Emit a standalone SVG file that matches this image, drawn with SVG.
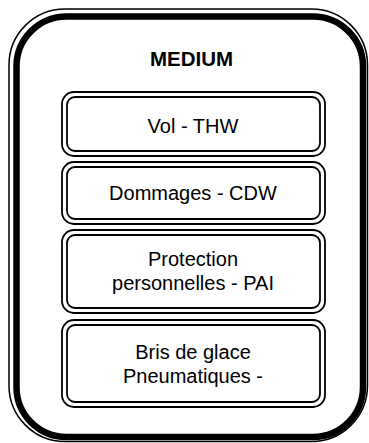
<svg xmlns="http://www.w3.org/2000/svg" width="369" height="443" viewBox="0 0 369 443">
<style>
.thin{fill:none;stroke:#000;stroke-width:1.5}
.thick{fill:none;stroke:#000;stroke-width:6.5}
.bo{fill:none;stroke:#000;stroke-width:1.8}
.t{font-family:"Liberation Sans",Arial,sans-serif;font-size:20px;fill:#000;text-anchor:middle}
.h{font-family:"Liberation Sans",Arial,sans-serif;font-size:20.5px;font-weight:bold;fill:#000;text-anchor:middle}
</style>
<rect width="369" height="443" fill="#fff"/>
<g id="frame">
<rect class="thin" x="9" y="9" width="358.5" height="432.5" rx="56"/>
<rect class="thick" x="16.5" y="16.5" width="346.5" height="420.5" rx="50"/>
<text class="h" x="191.5" y="66">MEDIUM</text>
</g>
<g id="connectors"></g>
<g id="vol">
<rect class="bo" x="62" y="92" width="263" height="64" rx="12"/>
<rect class="bo" x="67" y="97" width="253" height="54" rx="8"/>
<text class="t" x="193" y="133">Vol - THW</text>
</g>
<g id="dommages">
<rect class="bo" x="62" y="162" width="263" height="62" rx="12"/>
<rect class="bo" x="67" y="167" width="253" height="52" rx="8"/>
<text class="t" x="193" y="200">Dommages - CDW</text>
</g>
<g id="protection">
<rect class="bo" x="62" y="230" width="263" height="83" rx="12"/>
<rect class="bo" x="67" y="235" width="253" height="73" rx="8"/>
<text class="t" x="193" y="266">Protection</text>
<text class="t" x="193" y="290">personnelles - PAI</text>
</g>
<g id="bris">
<rect class="bo" x="62" y="320" width="263" height="87" rx="12"/>
<rect class="bo" x="67" y="325" width="253" height="77" rx="8"/>
<text class="t" x="193" y="359">Bris de glace</text>
<text class="t" x="193" y="383">Pneumatiques -</text>
</g>
</svg>
